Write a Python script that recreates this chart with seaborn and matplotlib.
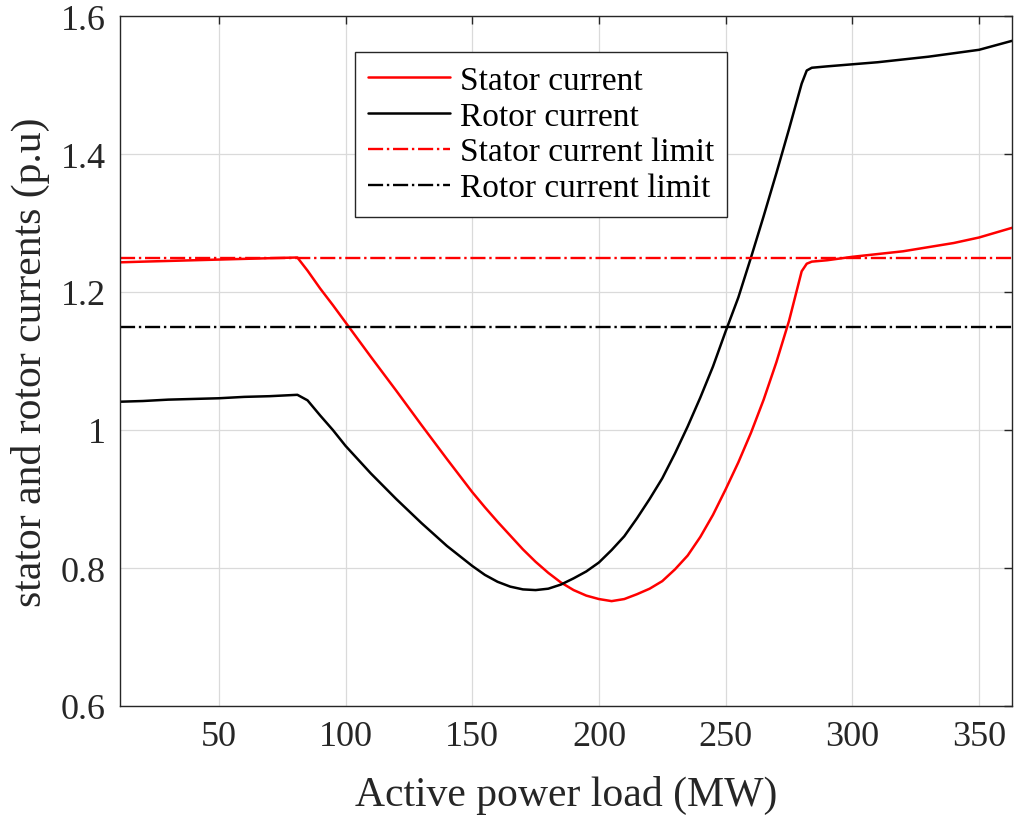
import numpy as np
import pandas as pd
import matplotlib
matplotlib.use("Agg")
import matplotlib.pyplot as plt
import seaborn as sns

# Active power load (MW) at which the currents were evaluated
load_mw = [11, 20, 30, 40, 50, 60, 70, 81, 85, 90, 95, 100, 110, 120, 130, 140,
           150, 155, 160, 165, 170, 175, 180, 185, 190, 195, 200, 205, 210, 215,
           220, 225, 230, 235, 240, 245, 250, 255, 260, 265, 270, 275, 280, 282,
           284, 290, 300, 310, 320, 330, 340, 350, 363]

# Stator current (p.u)
stator_current = [1.243, 1.244, 1.245, 1.246, 1.247, 1.248, 1.249, 1.250, 1.231,
                  1.205, 1.181, 1.156, 1.106, 1.057, 1.007, 0.958, 0.910, 0.888,
                  0.867, 0.847, 0.827, 0.809, 0.793, 0.779, 0.768, 0.760, 0.755,
                  0.752, 0.755, 0.762, 0.770, 0.781, 0.798, 0.818, 0.845, 0.877,
                  0.914, 0.953, 0.996, 1.044, 1.098, 1.158, 1.230, 1.241, 1.244,
                  1.246, 1.251, 1.255, 1.259, 1.265, 1.271, 1.279, 1.293]

# Rotor current (p.u)
rotor_current = [1.041, 1.042, 1.044, 1.045, 1.046, 1.048, 1.049, 1.051, 1.043,
                 1.021, 1.000, 0.977, 0.937, 0.900, 0.865, 0.832, 0.803, 0.790,
                 0.780, 0.773, 0.769, 0.768, 0.770, 0.776, 0.785, 0.795, 0.808,
                 0.826, 0.846, 0.872, 0.900, 0.930, 0.966, 1.005, 1.047, 1.092,
                 1.143, 1.192, 1.250, 1.310, 1.372, 1.436, 1.502, 1.521, 1.525,
                 1.527, 1.530, 1.533, 1.537, 1.541, 1.546, 1.551, 1.564]

# Operating limits (p.u)
stator_limit = 1.25
rotor_limit = 1.15

x_ticks = [50, 100, 150, 200, 250, 300, 350]
y_ticks = [0.6, 0.8, 1.0, 1.2, 1.4, 1.6]
y_tick_labels = ["0.6", "0.8", "1", "1.2", "1.4", "1.6"]

df = pd.DataFrame({"load": load_mw, "stator": stator_current, "rotor": rotor_current})

sns.set_theme(style="white")
plt.rcParams["font.family"] = ["Liberation Serif", "DejaVu Serif"]
plt.rcParams["axes.unicode_minus"] = False

axis_grey = (0.15, 0.15, 0.15)

fig = plt.figure(figsize=(10.15, 8.2), dpi=100)
ax = fig.add_axes([120 / 1015, 113 / 820, 892 / 1015, 690 / 820])

sns.lineplot(data=df, x="load", y="stator", color="red", lw=1.8,
             sort=False, estimator=None, label="Stator current", ax=ax)
sns.lineplot(data=df, x="load", y="rotor", color="black", lw=1.8,
             sort=False, estimator=None, label="Rotor current", ax=ax)
ax.axhline(stator_limit, color="red", lw=1.7, ls="-.", label="Stator current limit")
ax.axhline(rotor_limit, color="black", lw=1.7, ls="-.", label="Rotor current limit")

ax.set_xlim(11, 363)
ax.set_ylim(0.6, 1.6)
ax.set_xticks(x_ticks)
ax.set_yticks(y_ticks)
ax.set_yticklabels(y_tick_labels)

ax.grid(True, color="#dadada", lw=0.9)
ax.set_axisbelow(True)
for s in ax.spines.values():
    s.set_visible(True)
    s.set_color(axis_grey)
    s.set_linewidth(1.0)
ax.tick_params(direction="in", length=6, width=1.0, color=axis_grey,
               top=True, right=True, labelsize=26, labelcolor=axis_grey, pad=10)

ax.set_xlabel("Active power load (MW)", fontsize=30, color=axis_grey, labelpad=16)
ax.set_ylabel("stator and rotor currents (p.u)", fontsize=30, color=axis_grey, labelpad=8)

leg = ax.legend(loc="upper left", bbox_to_anchor=(0.263, 0.948), borderaxespad=0,
                fontsize=24, frameon=True, fancybox=False, framealpha=1,
                edgecolor=axis_grey, handlelength=2.45, handletextpad=0.3,
                labelspacing=0.16, borderpad=0.4)
leg.get_frame().set_linewidth(1.0)
for t in leg.get_texts():
    t.set_color("black")

fig.savefig("out.png", dpi=100)
